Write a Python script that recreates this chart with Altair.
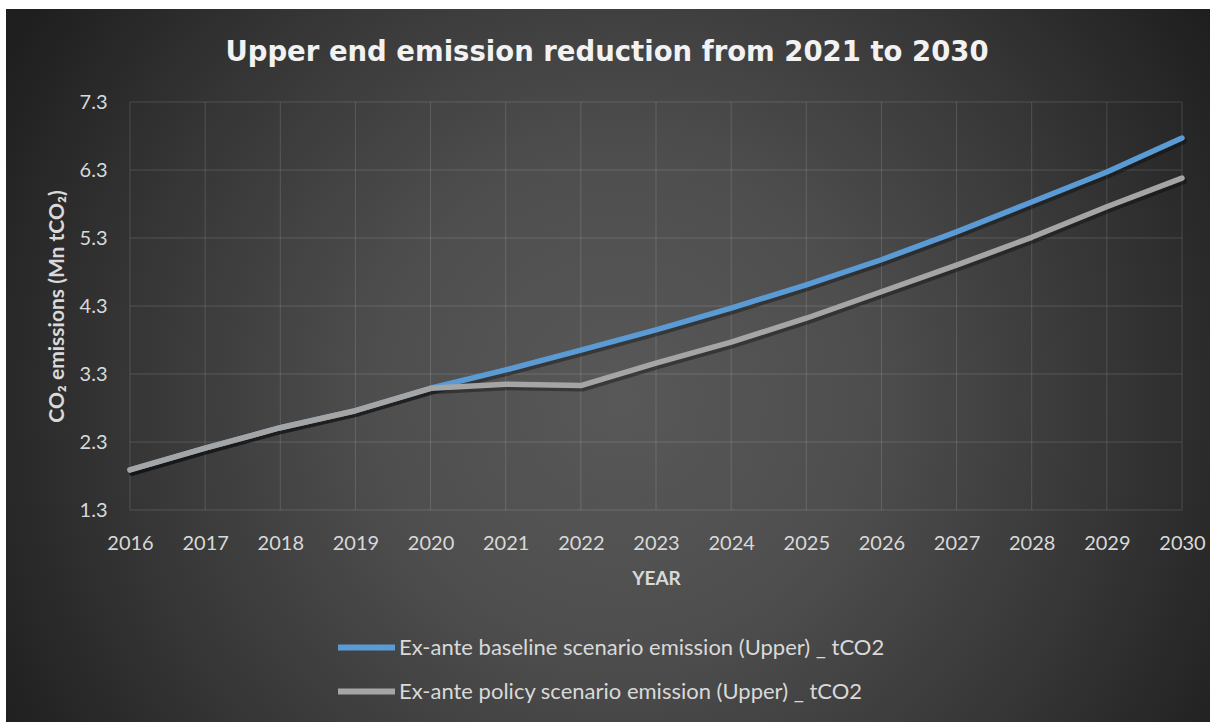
import altair as alt
import pandas as pd

# ---- data -------------------------------------------------------------
years = list(range(2016, 2031))
baseline = [1.89, 2.21, 2.51, 2.76, 3.09, 3.36, 3.65, 3.95, 4.27, 4.61, 4.98, 5.39, 5.83, 6.27, 6.77]
policy = [1.89, 2.21, 2.51, 2.76, 3.09, 3.15, 3.13, 3.46, 3.77, 4.12, 4.51, 4.90, 5.31, 5.76, 6.18]

series_names = [
    "Ex-ante baseline scenario emission (Upper) _ tCO2",
    "Ex-ante policy scenario emission (Upper) _ tCO2",
]
series_colors = ["#5b9bd5", "#a5a5a5"]

y_ticks = [1.3, 2.3, 3.3, 4.3, 5.3, 6.3, 7.3]

title_text = "Upper end emission reduction from 2021 to 2030"
x_title = "YEAR"
y_title = "CO₂ emissions (Mn tCO₂)"

# ---- tables -----------------------------------------------------------
df = pd.concat(
    [
        pd.DataFrame({"year": years, "value": baseline, "series": series_names[0]}),
        pd.DataFrame({"year": years, "value": policy, "series": series_names[1]}),
    ],
    ignore_index=True,
)
hgrid = pd.DataFrame({"value": y_ticks})
vgrid = pd.DataFrame({"year": years})
one = pd.DataFrame({"k": [0]})

W, H = 1052, 408
TEXT = "#d9d9d9"

x_enc = alt.X(
    "year:Q",
    scale=alt.Scale(domain=[2016, 2030], nice=False, zero=False),
    axis=alt.Axis(
        title=x_title, values=years, format="d", grid=False, ticks=False, domain=False,
        labelFont="Lato", labelFontSize=20, labelColor=TEXT, labelPadding=23,
        labelOverlap=False, labelFlush=False,
        titleFont="Lato", titleFontSize=19, titleFontWeight="bold", titleColor=TEXT,
        titlePadding=16, zindex=1,
    ),
)
y_enc = alt.Y(
    "value:Q",
    scale=alt.Scale(domain=[1.3, 7.3], nice=False, zero=False),
    axis=alt.Axis(
        title=y_title, values=y_ticks, format=".1f", grid=False, ticks=False, domain=False,
        labelFont="Lato", labelFontSize=20, labelColor=TEXT, labelPadding=23,
        labelOverlap=False, labelFlush=False,
        titleFont="Lato", titleFontSize=21, titleFontWeight="bold", titleColor=TEXT,
        titlePadding=12, zindex=1,
    ),
)

# radial backdrop covering the whole canvas (clipped by the svg viewport)
backdrop = alt.Chart(one).mark_rect(
    fill={
        "gradient": "radial",
        "x1": 0.4386, "y1": 0.2793, "r1": 0,
        "x2": 0.4386, "y2": 0.2793, "r2": 0.5,
        "stops": [
            {"offset": 0.0, "color": "#585858"},
            {"offset": 0.35, "color": "#4e4e4e"},
            {"offset": 0.7, "color": "#363636"},
            {"offset": 1.0, "color": "#1f1f1f"},
        ],
    }
).encode(
    x=alt.value(-124), x2=alt.value(1276), y=alt.value(-93), y2=alt.value(1307)
)

grid_h = alt.Chart(hgrid).mark_rule(color="#ffffff", opacity=0.14, strokeWidth=1).encode(
    y=y_enc, x=alt.value(0), x2=alt.value(W)
)
grid_v = alt.Chart(vgrid).mark_rule(color="#ffffff", opacity=0.14, strokeWidth=1).encode(
    x=x_enc, y=alt.value(0), y2=alt.value(H)
)

shadow = alt.Chart(df).mark_line(
    color="#000000", opacity=0.35, strokeWidth=6, xOffset=2, yOffset=3, strokeCap="round"
).encode(x=x_enc, y=y_enc, detail="series:N")

lines = alt.Chart(df).mark_line(strokeWidth=5.5, strokeCap="round", strokeJoin="round").encode(
    x=x_enc,
    y=y_enc,
    color=alt.Color(
        "series:N",
        scale=alt.Scale(domain=series_names, range=series_colors),
        sort=series_names,
        legend=alt.Legend(
            title=None, orient="none", legendX=205, legendY=514, direction="vertical",
            symbolType="stroke", symbolSize=3249, symbolStrokeWidth=6,
            labelFont="Lato", labelFontSize=22, labelColor=TEXT, labelOffset=1,
            labelLimit=0, rowPadding=-6,
        ),
    ),
)

chart = (
    alt.layer(backdrop, grid_h, grid_v, shadow, lines)
    .properties(
        width=W,
        height=H,
        background="#ffffff",
        padding={"left": 130, "top": 102, "right": 28, "bottom": 212},
        autosize=alt.AutoSizeParams(type="none"),
        title=alt.TitleParams(
            text=title_text, font="DejaVu Sans", fontSize=27.5, fontWeight="bold",
            color="#f2f2f2", anchor="middle", frame="group", dx=-49, offset=-57,
        ),
    )
    .configure_view(stroke=None)
)

chart.save("out.html", embed_options={"renderer": "svg", "actions": False})
